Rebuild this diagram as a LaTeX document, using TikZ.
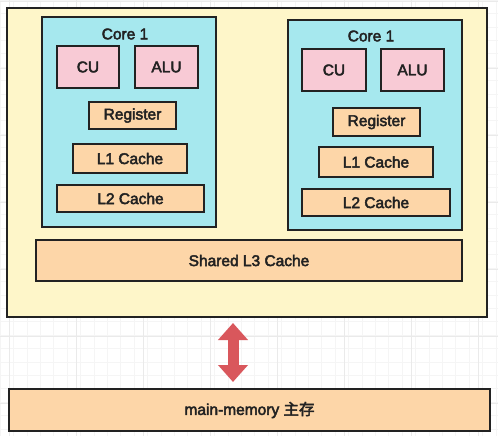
\documentclass[tikz,border=0pt]{standalone}
\usepackage{fontspec}
\setmainfont{Liberation Sans}
\newfontfamily\lbl[FakeBold=3]{Liberation Sans}
\newfontfamily\cjk[FakeBold=3]{Noto Sans CJK SC}
\usetikzlibrary{arrows.meta}
\definecolor{bgyellow}{HTML}{FEF6C9}
\definecolor{corecyan}{HTML}{A6E8EE}
\definecolor{unitpink}{HTML}{F8CAD5}
\definecolor{cachepeach}{HTML}{FDD6A8}
\definecolor{arrowred}{HTML}{D9575C}
\definecolor{edge}{HTML}{222222}
\definecolor{gridminor}{HTML}{F5F5F5}
\definecolor{gridmajor}{HTML}{EAEAEA}
\tikzset{
  base/.style={draw=edge, line width=1.6pt, rectangle, inner sep=0pt, text=edge, font=\lbl\fontsize{15.5}{18}\selectfont},
  outerbox/.style={base, fill=bgyellow},
  corebox/.style={base, fill=corecyan},
  unitbox/.style={base, fill=unitpink},
  cachebox/.style={base, fill=cachepeach},
  corelabel/.style={text=edge, font=\lbl\fontsize{15.5}{18}\selectfont, inner sep=0pt},
  bigarrow/.style={draw=arrowred, line width=11pt, arrows={Triangle[width=29pt,length=17pt]-Triangle[width=29pt,length=17pt]}}
}
\begin{document}
\begin{tikzpicture}[x=1pt,y=-1pt]
\useasboundingbox (0,0) rectangle (498,436);
\fill[white] (0,0) rectangle (498,436);
% faint background grid
\foreach \x in {0,13.4,...,498} \draw[gridminor, line width=0.5pt] (\x,0) -- (\x,436);
\foreach \y in {0,13.4,...,436} \draw[gridminor, line width=0.5pt] (0,\y) -- (498,\y);
\foreach \x in {9,76,...,498} \draw[gridmajor, line width=0.8pt] (\x,0) -- (\x,436);
\foreach \y in {1,68,...,436} \draw[gridmajor, line width=0.8pt] (0,\y) -- (498,\y);

\node[outerbox, minimum width=480pt, minimum height=309pt] (outer) at (247,162.5) {};

% left core
\node[corebox, minimum width=174pt, minimum height=210pt] (coreL) at (129,122) {};
\node[corelabel] (coreLt) at (125,34) {Core 1};
\node[unitbox, minimum width=62pt, minimum height=42pt] (cuL) at (88,67) {CU};
\node[unitbox, minimum width=63pt, minimum height=42pt] (aluL) at (166.5,67) {ALU};
\node[cachebox, minimum width=87pt, minimum height=27pt] (regL) at (132.5,115.5) {Register};
\node[cachebox, minimum width=114pt, minimum height=29pt] (l1L) at (130,158.5) {L1 Cache};
\node[cachebox, minimum width=147pt, minimum height=27.5pt] (l2L) at (130.5,198.5) {L2 Cache};

% right core
\node[corebox, minimum width=174pt, minimum height=210pt] (coreR) at (375,125) {};
\node[corelabel] (coreRt) at (371,36) {Core 1};
\node[unitbox, minimum width=64pt, minimum height=42pt] (cuR) at (334,70) {CU};
\node[unitbox, minimum width=63pt, minimum height=42pt] (aluR) at (412.5,70) {ALU};
\node[cachebox, minimum width=87pt, minimum height=28pt] (regR) at (376.5,122) {Register};
\node[cachebox, minimum width=114pt, minimum height=30pt] (l1R) at (376,162) {L1 Cache};
\node[cachebox, minimum width=148pt, minimum height=27pt] (l2R) at (376,202.5) {L2 Cache};

% shared L3
\node[cachebox, minimum width=426pt, minimum height=41pt] (l3) at (249,260.5) {Shared L3 Cache};

% main memory
\node[cachebox, minimum width=481pt, minimum height=42pt] (mem) at (249.5,410) {main-memory {\cjk 主存}};

% arrow
\coordinate (atop) at (233,323);
\coordinate (abot) at (233,382);
\draw[bigarrow] (atop) -- (abot);
\end{tikzpicture}
\end{document}
